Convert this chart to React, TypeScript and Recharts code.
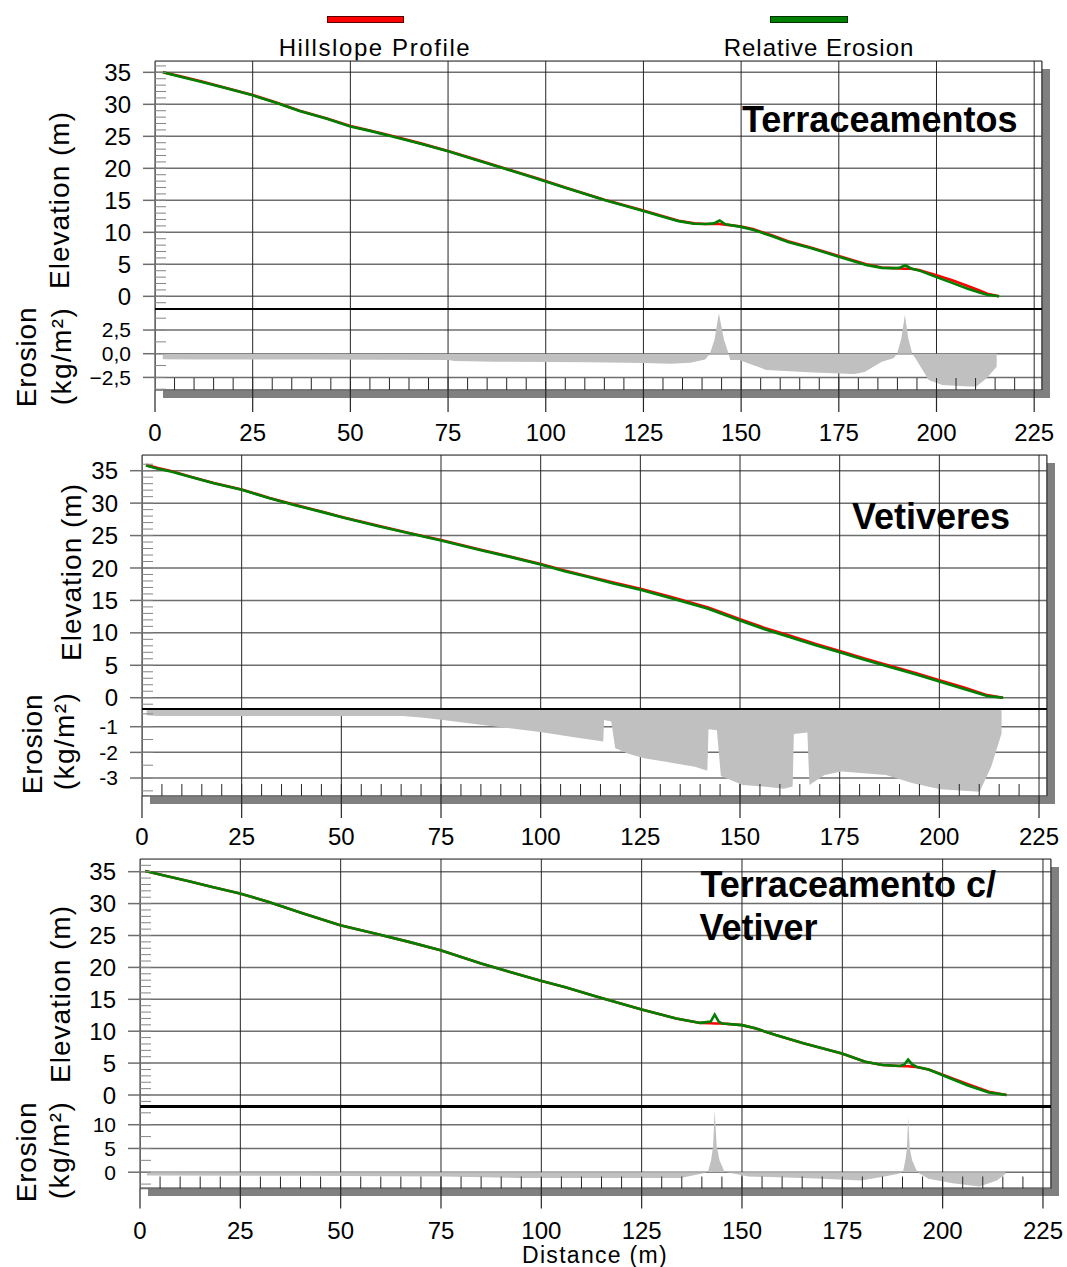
import React from 'react';
import { LineChart, Line, AreaChart, Area, XAxis, YAxis, CartesianGrid } from 'recharts';

const FONT = '"Liberation Sans", Arial, Helvetica, sans-serif';
const X_MAX = 227;

const distTicks = [0, 25, 50, 75, 100, 125, 150, 175, 200, 225];
const elevTicks = [0, 5, 10, 15, 20, 25, 30, 35];

// Terraceamentos
const terDist = [2, 6, 12, 18, 25, 31, 37, 44, 50, 55, 61, 68, 75, 82, 90, 98, 105, 115, 125, 130, 134, 138, 141, 143, 144.5, 146, 150, 153, 158, 162, 168, 175, 182, 186, 189, 190.5, 192, 193.5, 195.5, 200, 204, 208, 211, 213, 216];
const terProfile = [35.0, 34.45, 33.55, 32.6, 31.45, 30.3, 29.0, 27.8, 26.6, 25.9, 25.0, 23.9, 22.7, 21.4, 19.9, 18.4, 17.0, 15.1, 13.4, 12.5, 11.8, 11.4, 11.3, 11.3, 11.3, 11.2, 10.9, 10.5, 9.5, 8.6, 7.6, 6.3, 5.0, 4.5, 4.4, 4.35, 4.3, 4.3, 4.1, 3.3, 2.5, 1.6, 0.9, 0.4, 0.0];
const terRelative = [35.0, 34.4, 33.5, 32.55, 31.4, 30.25, 28.95, 27.75, 26.55, 25.85, 24.95, 23.85, 22.65, 21.35, 19.85, 18.35, 16.95, 15.05, 13.35, 12.45, 11.75, 11.35, 11.3, 11.4, 11.85, 11.25, 10.85, 10.4, 9.4, 8.5, 7.5, 6.2, 4.9, 4.45, 4.4, 4.45, 4.85, 4.35, 4.05, 3.0, 2.1, 1.2, 0.6, 0.25, 0.0];
const terErosDist = [2, 10, 40, 75, 76.7, 87, 111, 125, 132, 137, 140.8, 142, 143.2, 144.3, 145.6, 146.8, 147.2, 149.5, 153, 156.5, 168.6, 179, 181.6, 186, 189, 189.9, 191, 191.9, 192.8, 193.8, 194.6, 198, 201.5, 208.4, 210.2, 212.8, 215.4];
const terErosion = [-0.59, -0.6, -0.62, -0.66, -0.77, -0.84, -0.9, -0.98, -1.07, -0.95, -0.6, 0, 1.5, 4.27, 1.5, 0, -0.66, -0.66, -1.2, -1.72, -1.97, -2.15, -1.94, -0.84, -0.49, 0, 1.6, 4.09, 1.6, 0, -0.49, -2.78, -3.3, -3.47, -3.47, -2.6, -1.37];
const terErosTicks = [-2.5, 0, 2.5];

// Vetiveres
const vetDist = [1, 4, 7.5, 12, 18, 25, 32, 38.6, 45, 50.6, 59.3, 67, 75, 85, 92, 100, 106, 112, 118, 125, 133, 142, 150, 156, 162.8, 169, 175, 181, 187.8, 194, 200, 206, 212, 216];
const vetProfile = [35.9, 35.4, 34.9, 34.1, 33.1, 32.1, 30.8, 29.7, 28.7, 27.8, 26.5, 25.4, 24.3, 22.8, 21.8, 20.6, 19.6, 18.7, 17.8, 16.8, 15.5, 13.9, 12.1, 10.8, 9.5, 8.3, 7.2, 6.1, 4.9, 3.8, 2.7, 1.6, 0.4, 0];
const vetRelative = [35.8, 35.3, 34.85, 34.05, 33.05, 32.05, 30.75, 29.65, 28.65, 27.75, 26.45, 25.35, 24.25, 22.75, 21.75, 20.55, 19.5, 18.6, 17.65, 16.65, 15.3, 13.7, 11.9, 10.6, 9.3, 8.1, 7.0, 5.9, 4.7, 3.6, 2.5, 1.4, 0.25, 0];
const vetErosDist = [1.2, 3.8, 65.3, 70, 75.5, 88, 100.3, 108, 115.7, 115.9, 117.7, 118.7, 122, 125.9, 131, 138.7, 141.8, 142.1, 144.2, 145.2, 150.7, 155.8, 161, 163.2, 163.5, 166.9, 167.4, 171.2, 175.5, 186.6, 193.4, 200.2, 210.1, 213, 215.6];
const vetErosion = [-0.55, -0.58, -0.58, -0.64, -0.74, -0.98, -1.22, -1.4, -1.58, -0.74, -0.8, -1.84, -2.05, -2.23, -2.36, -2.56, -2.72, -1.1, -1.14, -2.92, -3.27, -3.33, -3.42, -3.33, -1.28, -1.23, -3.27, -2.88, -2.75, -2.88, -3.2, -3.44, -3.53, -2.56, -1.26];
const vetErosTicks = [-3, -2, -1];

// Terraceamento c/ Vetiver
const tvDist = [1.3, 6, 12.2, 18, 24.9, 31.9, 40.5, 49.9, 59.3, 67, 74.9, 85, 92, 99.4, 106, 113.9, 125, 133.6, 139.6, 142.2, 143.2, 144.2, 145.1, 150, 153.3, 158.4, 165.3, 174.9, 180.7, 185, 189.3, 190.4, 191.4, 192.4, 193.6, 196.5, 200, 206.3, 211.5, 215.9];
const tvProfile = [35.1, 34.4, 33.5, 32.6, 31.6, 30.3, 28.5, 26.6, 25.2, 24.0, 22.7, 20.6, 19.3, 18.0, 16.9, 15.4, 13.4, 12.0, 11.3, 11.25, 11.2, 11.2, 11.2, 10.95, 10.45, 9.4, 8.1, 6.5, 5.2, 4.7, 4.55, 4.5, 4.5, 4.45, 4.4, 4.0, 3.2, 1.7, 0.5, 0];
const tvRelative = [35.1, 34.4, 33.5, 32.6, 31.6, 30.3, 28.5, 26.6, 25.2, 24.0, 22.7, 20.6, 19.3, 18.0, 16.9, 15.4, 13.4, 12.0, 11.3, 11.5, 12.6, 11.5, 11.2, 10.95, 10.45, 9.4, 8.1, 6.5, 5.2, 4.7, 4.55, 4.75, 5.55, 4.8, 4.4, 4.0, 3.1, 1.5, 0.4, 0];
const tvErosDist = [1.7, 40, 75.4, 94, 134.7, 139.8, 141.5, 142.3, 142.8, 143.2, 143.7, 144.4, 145.7, 148.2, 151.6, 168.6, 179.6, 185.5, 189, 190.1, 190.7, 191.1, 191.4, 191.8, 192.4, 193.7, 196.5, 202.5, 209.2, 213.5, 215.7];
const tvErosion = [-0.7, -0.75, -0.9, -1.2, -1.2, -0.35, 0, 2.5, 5.5, 13, 5.5, 2.5, 0, -0.35, -0.9, -1.3, -1.75, -0.9, -0.35, 0, 2.5, 5, 11.6, 5, 2.5, 0, -1.4, -2.3, -3.0, -1.75, -0.35];
const tvErosTicks = [0, 5, 10];

const range = (a: number, b: number, s: number) => {
  const out: number[] = [];
  for (let v = a; v <= b + 1e-9; v += s) out.push(Math.round(v * 100) / 100);
  return out;
};
const distMinor = range(5, 220, 5);
const elevMinor = range(-1, 36, 1);

const GRID_H = '#6e6e6e';
const GRID_V = '#262626';
const AXIS_W = 70;
const PAD = 12;

const noLabel = () => <g />;

type PanelProps = {
  dist: number[];
  profile: number[];
  relative: number[];
  erosDist: number[];
  erosion: number[];
  left: number;
  width: number;
  top: number;
  sep: number;
  bottom: number;
  elevDomain: [number, number];
  erosDomain: [number, number];
  erosTicks: number[];
  erosMinor: number[];
  erosFormat?: (v: number) => string;
  gridTicks: number[];
  tickLen: number;
  labelDy: number;
};

function Panel(p: PanelProps) {
  const elevRows = p.dist.map((x, i) => ({ x, profile: p.profile[i], relative: p.relative[i] }));
  const erosRows = p.erosDist.map((x, i) => ({ x, erosion: p.erosion[i] }));
  const chartW = AXIS_W + p.width + PAD;
  const tickStyle = { fontSize: 24, fill: '#000', fontFamily: FONT };
  const erosTickStyle = { fontSize: 21, fill: '#000', fontFamily: FONT };
  // label centre sits labelDy below the plot; default bottom-axis text has dy=0.71em
  const labelMargin = p.labelDy - p.tickLen - 0.352 * 24;
  return (
    <>
      <div
        style={{
          position: 'absolute',
          left: p.left,
          top: p.top,
          width: p.width,
          height: p.bottom - p.top,
          boxSizing: 'border-box',
          border: '1.5px solid #a6a6a6',
          background: '#fff',
          boxShadow: '8px 8px 0 #808080',
        }}
      />
      <div style={{ position: 'absolute', left: p.left - AXIS_W, top: p.top - PAD }}>
        <LineChart width={chartW} height={p.sep - p.top + 2 * PAD} data={elevRows} margin={{ top: PAD, right: PAD, bottom: PAD, left: 0 }}>
          <CartesianGrid vertical={false} stroke={GRID_H} strokeWidth={1.5} />
          <CartesianGrid horizontal={false} stroke={GRID_V} strokeWidth={1} />
          <XAxis type="number" dataKey="x" domain={[0, X_MAX]} allowDataOverflow ticks={p.gridTicks} interval={0} tick={noLabel} tickLine={false} axisLine={false} height={0} />
          <YAxis type="number" domain={p.elevDomain} allowDataOverflow ticks={elevTicks} interval={0} width={AXIS_W} tickSize={12} tickMargin={12} axisLine={false} tickLine={{ stroke: GRID_H, strokeWidth: 1.5 }} tick={tickStyle} />
          <YAxis yAxisId="minor" type="number" domain={p.elevDomain} allowDataOverflow ticks={elevMinor} interval={0} mirror tick={noLabel} tickSize={11} axisLine={false} tickLine={{ stroke: '#858585' }} />
          <Line type="linear" dataKey="profile" stroke="#ff0000" strokeWidth={2.6} dot={false} isAnimationActive={false} />
          <Line type="linear" dataKey="relative" stroke="#008000" strokeWidth={2.6} dot={false} isAnimationActive={false} />
        </LineChart>
      </div>
      <div style={{ position: 'absolute', left: p.left - AXIS_W, top: p.sep - PAD }}>
        <AreaChart width={chartW} height={PAD + (p.bottom - p.sep) + 60} data={erosRows} margin={{ top: PAD, right: PAD, bottom: 0, left: 0 }}>
          <CartesianGrid vertical={false} stroke={GRID_H} strokeWidth={1.5} />
          <CartesianGrid horizontal={false} stroke={GRID_V} strokeWidth={1} />
          <XAxis
            type="number"
            dataKey="x"
            domain={[0, X_MAX]}
            allowDataOverflow
            ticks={distTicks}
            interval={0}
            height={60}
            tickSize={p.tickLen}
            tickMargin={labelMargin}
            tickLine={{ stroke: GRID_V, strokeWidth: 1.2 }}
            axisLine={false}
            tick={tickStyle}
          />
          <XAxis xAxisId="minor" type="number" dataKey="x" domain={[0, X_MAX]} allowDataOverflow ticks={distMinor} interval={0} mirror tick={noLabel} tickSize={12} axisLine={false} tickLine={{ stroke: GRID_V }} />
          <YAxis type="number" domain={p.erosDomain} allowDataOverflow ticks={p.erosTicks} interval={0} width={AXIS_W} tickSize={12} tickMargin={12} axisLine={false} tickLine={{ stroke: GRID_H, strokeWidth: 1.5 }} tick={erosTickStyle} tickFormatter={p.erosFormat} />
          <YAxis yAxisId="minor" type="number" domain={p.erosDomain} allowDataOverflow ticks={p.erosMinor} interval={0} mirror tick={noLabel} tickSize={11} axisLine={false} tickLine={{ stroke: '#858585' }} />
          <Area type="linear" dataKey="erosion" stroke="none" fill="#c0c0c0" fillOpacity={1} isAnimationActive={false} />
        </AreaChart>
      </div>
      <div style={{ position: 'absolute', left: p.left, top: p.sep - 1.25, width: p.width, height: 2.5, background: '#000' }} />
    </>
  );
}

function Rot({ text, cx, cy, size = 28, spacing = 1 }: { text: string; cx: number; cy: number; size?: number; spacing?: number }) {
  return (
    <div
      style={{
        position: 'absolute',
        left: cx,
        top: cy,
        transform: 'translate(-50%, -50%) rotate(-90deg)',
        fontSize: size,
        lineHeight: 1,
        letterSpacing: spacing,
        whiteSpace: 'nowrap',
        fontFamily: FONT,
        color: '#000',
      }}
    >
      {text}
    </div>
  );
}

function Title({ text, left, capTop }: { text: string; left: number; capTop: number }) {
  return (
    <div style={{ position: 'absolute', left, top: capTop - 4.7, fontSize: 36, lineHeight: 1, fontWeight: 'bold', fontFamily: FONT, whiteSpace: 'nowrap', color: '#000' }}>
      {text}
    </div>
  );
}

function CenterText({ text, cx, capTop, size, spacing }: { text: string; cx: number; capTop: number; size: number; spacing: number }) {
  return (
    <div style={{ position: 'absolute', left: cx - 200, width: 400, top: capTop - 0.13 * size, fontSize: size, lineHeight: 1, letterSpacing: spacing, textAlign: 'center', fontFamily: FONT, whiteSpace: 'nowrap', color: '#000' }}>
      {text}
    </div>
  );
}

const commaFmt = (v: number) => (v < 0 ? '\u2212' : '') + Math.abs(v).toFixed(1).replace('.', ',');

export default function App() {
  return (
    <div style={{ position: 'absolute', left: 0, top: 0, width: 1067, height: 1267, background: '#fff', overflow: 'hidden' }}>
      {/* legend */}
      <div style={{ position: 'absolute', left: 327, top: 16, width: 77, height: 7, background: '#ff0000', border: '1px solid #5a0000', boxSizing: 'border-box' }} />
      <div style={{ position: 'absolute', left: 770, top: 16, width: 78, height: 7, background: '#008000', border: '1px solid #003000', boxSizing: 'border-box' }} />
      <CenterText text="Hillslope Profile" cx={375} capTop={39.3} size={24} spacing={1.6} />
      <CenterText text="Relative Erosion" cx={819} capTop={39.3} size={24} spacing={1} />

      <Panel
        dist={terDist}
        profile={terProfile}
        relative={terRelative}
        erosDist={terErosDist}
        erosion={terErosion}
        left={155}
        width={887}
        top={61}
        sep={309}
        bottom={390}
        elevDomain={[-1.98, 36.77]}
        erosDomain={[-3.83, 4.72]}
        erosTicks={terErosTicks}
        erosMinor={range(-3.75, 3.75, 1.25)}
        erosFormat={commaFmt}
        gridTicks={distTicks}
        tickLen={22}
        labelDy={42.5}
      />
      <Title text="Terraceamentos" left={742} capTop={107} />
      <Rot text="Elevation (m)" cx={60} cy={200} />
      <Rot text="Erosion" cx={27} cy={357} spacing={0.8} />
      <Rot text="(kg/m²)" cx={62} cy={356} spacing={1.4} />

      <Panel
        dist={vetDist}
        profile={vetProfile}
        relative={vetRelative}
        erosDist={vetErosDist}
        erosion={vetErosion}
        left={142}
        width={905}
        top={455}
        sep={709}
        bottom={796}
        elevDomain={[-1.74, 37.42]}
        erosDomain={[-3.7, -0.31]}
        erosTicks={vetErosTicks}
        erosMinor={range(-3.5, -0.5, 0.5)}
        gridTicks={[0, 25, 75, 100, 125, 150, 175, 200, 225]}
        tickLen={22}
        labelDy={40.3}
      />
      <Title text="Vetiveres" left={852} capTop={504} />
      <Rot text="Elevation (m)" cx={72} cy={572} />
      <Rot text="Erosion" cx={33} cy={744} spacing={0.8} />
      <Rot text="(kg/m²)" cx={65} cy={741} spacing={1.4} />

      <Panel
        dist={tvDist}
        profile={tvProfile}
        relative={tvRelative}
        erosDist={tvErosDist}
        erosion={tvErosion}
        left={140}
        width={911}
        top={859}
        sep={1106.5}
        bottom={1188}
        elevDomain={[-1.8, 36.99]}
        erosDomain={[-3.43, 13.73]}
        erosTicks={tvErosTicks}
        erosMinor={range(-2.5, 12.5, 2.5)}
        gridTicks={distTicks}
        tickLen={20}
        labelDy={42}
      />
      <Title text="Terraceamento c/" left={700.5} capTop={871.7} />
      <Title text="Vetiver" left={699.5} capTop={915} />
      <Rot text="Elevation (m)" cx={61} cy={994} />
      <Rot text="Erosion" cx={27} cy={1152} spacing={0.8} />
      <Rot text="(kg/m²)" cx={60} cy={1150} spacing={1.4} />

      <CenterText text="Distance (m)" cx={595} capTop={1247} size={23} spacing={1.3} />
    </div>
  );
}
